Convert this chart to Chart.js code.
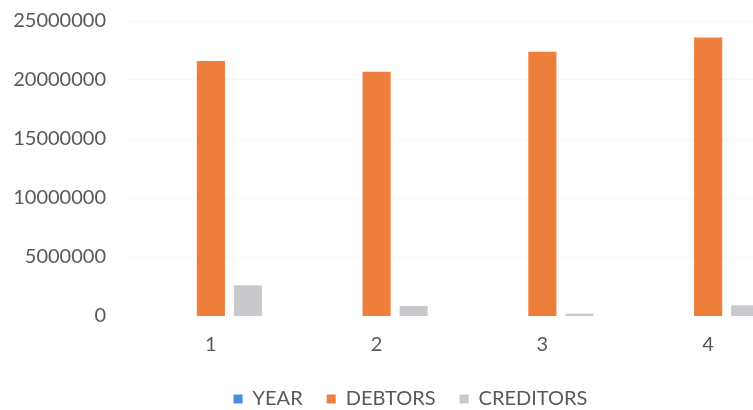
<!DOCTYPE html>
<html>
<head>
<meta charset="utf-8">
<script src="https://cdn.jsdelivr.net/npm/chart.js@4.4.1/dist/chart.umd.min.js"></script>
<style>
  html, body { margin: 0; padding: 0; background: #fff; overflow: hidden; }
  #wrap { width: 753px; height: 410px; overflow: hidden; position: relative; }
  #chart { position: absolute; left: 0; top: 0; }
</style>
</head>
<body>
<div id="wrap"><canvas id="chart" width="822" height="410"></canvas></div>
<script>
// Chart data
const categories = ['1', '2', '3', '4'];
const yearValues = [1, 2, 3, 4];
const debtors = [21600000, 20700000, 22400000, 23600000];
const creditors = [2600000, 850000, 200000, 900000];
const yTicks = [0, 5000000, 10000000, 15000000, 20000000, 25000000];

const textColor = '#595959';

// legend is centred on the whole (wider, cropped) chart, not on the padded box
const legendShift = {
  id: 'legendShift',
  afterLayout(chart) {
    const lg = chart.legend;
    if (!lg) return;
    lg.left += 15;
    lg.right += 15;
  }
};

// the plot runs past the right edge of the window, like the cropped original
new Chart(document.getElementById('chart'), {
  type: 'bar',
  data: {
    labels: categories,
    datasets: [
      { label: 'YEAR', data: yearValues, backgroundColor: '#4a8fdf' },
      { label: 'DEBTORS', data: debtors, backgroundColor: '#ee7e3b' },
      { label: 'CREDITORS', data: creditors, backgroundColor: '#c9c9cd' }
    ]
  },
  options: {
    responsive: false,
    devicePixelRatio: 1,
    animation: false,
    layout: { padding: { top: 21, right: 31, left: 0, bottom: -9 } },
    datasets: {
      bar: { categoryPercentage: 0.67, barPercentage: 0.76, inflateAmount: 0 }
    },
    plugins: {
      tooltip: { enabled: false },
      legend: {
        position: 'bottom',
        labels: {
          color: textColor,
          boxWidth: 9,
          boxHeight: 9,
          padding: 24,
          font: { family: 'Lato', size: 20 }
        }
      }
    },
    scales: {
      x: {
        grid: { display: false, drawTicks: false },
        border: { display: false },
        ticks: { color: textColor, padding: 17, font: { family: 'Lato', size: 20 } },
        afterFit: (scale) => { scale.height = 49; }
      },
      y: {
        min: 0,
        max: 25000000,
        afterBuildTicks: (scale) => { scale.ticks = yTicks.map(v => ({ value: v })); },
        grid: {
          color: '#f7f7f7',
          drawTicks: false,
          lineWidth: (ctx) => (ctx.tick && ctx.tick.value === 0 ? 0 : 1)
        },
        border: { display: false },
        ticks: {
          color: textColor,
          padding: 22,
          font: { family: 'Lato', size: 20 },
          callback: (v) => String(v)
        },
        afterFit: (scale) => {
          scale.width = 128;
          scale.paddingTop = 0;
          scale.paddingBottom = 0;
        }
      }
    }
  },
  plugins: [legendShift]
});
</script>
</body>
</html>
